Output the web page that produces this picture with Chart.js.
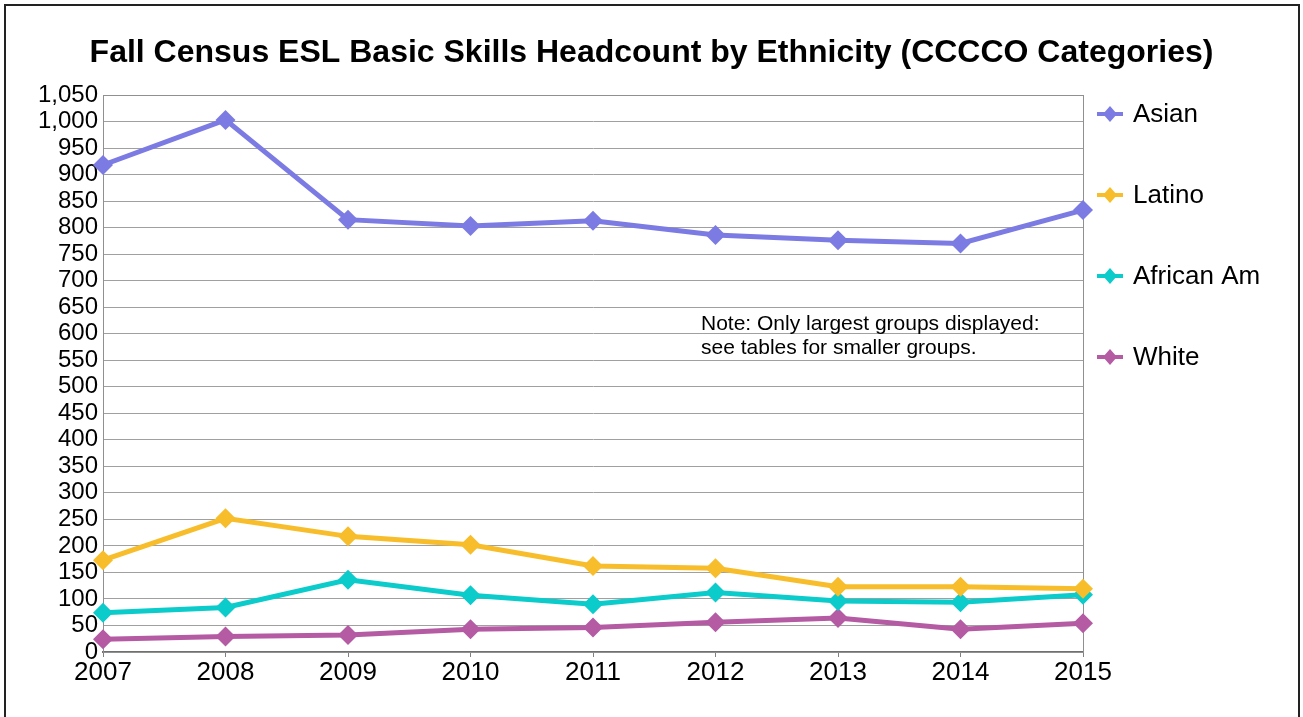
<!DOCTYPE html>
<html>
<head>
<meta charset="utf-8">
<title>Fall Census ESL Basic Skills Headcount by Ethnicity</title>
<script src="https://cdn.jsdelivr.net/npm/chart.js@4.4.1/dist/chart.umd.min.js"></script>
<style>
  html, body { margin: 0; padding: 0; background: #fff; overflow: hidden; }
  #frame {
    position: absolute; left: 4px; top: 4px; width: 1296px; height: 760px;
    border: 2px solid #222; box-sizing: border-box;
  }
  #wrap { position: absolute; left: 0; top: 0; width: 1303px; height: 717px; }
</style>
</head>
<body>
<div id="frame"></div>
<div id="wrap"><canvas id="chart" width="1303" height="717"></canvas></div>
<script>
// ── Data ──────────────────────────────────────────────────────────────────────
const years     = ['2007', '2008', '2009', '2010', '2011', '2012', '2013', '2014', '2015'];
const asian     = [918, 1003, 815, 803, 813, 786, 776, 770, 833];
const latino    = [173, 252, 218, 202, 162, 158, 123, 123, 119];
const africanAm = [74, 84, 136, 107, 90, 112, 96, 94, 108];
const white     = [24, 29, 32, 43, 46, 56, 64, 43, 54];

const seriesNames  = ['Asian', 'Latino', 'African Am', 'White'];
const seriesColors = ['#7b7be3', '#f8bd2a', '#0bcbcb', '#b45ba4'];
const noteLines = ['Note: Only largest groups displayed:', 'see tables for smaller groups.'];

const FONT = "'Liberation Sans', Arial, sans-serif";

function makeDataset(label, data, color) {
  return {
    label,
    data,
    borderColor: color,
    backgroundColor: color,
    borderWidth: 5,
    pointStyle: 'rectRot',
    pointRadius: 10,
    pointHoverRadius: 10,
    pointBackgroundColor: color,
    pointBorderWidth: 0,
    tension: 0,
    fill: false,
  };
}

// Box round the plot area (top and right edges aren't drawn by the axes)
const plotFrame = {
  id: 'plotFrame',
  beforeDatasetsDraw(chart) {
    const { ctx, chartArea: a } = chart;
    ctx.save();
    ctx.strokeStyle = '#909090';
    ctx.lineWidth = 1;
    ctx.strokeRect(a.left + 0.5, a.top + 0.5, a.right - a.left, a.bottom - a.top);
    ctx.restore();
  },
};

// Side legend: line + diamond marker, widely spaced like the original
const sideLegend = {
  id: 'sideLegend',
  afterDraw(chart) {
    const { ctx, chartArea: a } = chart;
    ctx.save();
    ctx.font = `26px ${FONT}`;
    ctx.textBaseline = 'middle';
    ctx.fillStyle = '#000';
    chart.data.datasets.forEach((ds, i) => {
      const y = a.top + 19 + i * 81;
      const x0 = a.right + 14;
      ctx.strokeStyle = ds.borderColor;
      ctx.lineWidth = 4;
      ctx.beginPath();
      ctx.moveTo(x0, y);
      ctx.lineTo(x0 + 26, y);
      ctx.stroke();
      ctx.fillStyle = ds.borderColor;
      ctx.beginPath();
      ctx.moveTo(x0 + 13, y - 8);
      ctx.lineTo(x0 + 20, y);
      ctx.lineTo(x0 + 13, y + 8);
      ctx.lineTo(x0 + 6, y);
      ctx.closePath();
      ctx.fill();
      ctx.fillStyle = '#000';
      ctx.fillText(ds.label, x0 + 36, y + 1);
    });
    ctx.restore();
  },
};

// Note text inside the plot
const noteText = {
  id: 'noteText',
  afterDatasetsDraw(chart) {
    const { ctx } = chart;
    ctx.save();
    ctx.font = `21px ${FONT}`;
    ctx.fillStyle = '#000';
    ctx.textBaseline = 'middle';
    noteLines.forEach((line, i) => ctx.fillText(line, 701, 324 + i * 24));
    ctx.restore();
  },
};

const ctx = document.getElementById('chart').getContext('2d');

new Chart(ctx, {
  type: 'line',
  data: {
    labels: years,
    datasets: [
      makeDataset(seriesNames[0], asian, seriesColors[0]),
      makeDataset(seriesNames[1], latino, seriesColors[1]),
      makeDataset(seriesNames[2], africanAm, seriesColors[2]),
      makeDataset(seriesNames[3], white, seriesColors[3]),
    ],
  },
  options: {
    responsive: false,
    animation: false,
    locale: 'en-US',
    layout: { padding: { left: 0, right: 0, top: 0, bottom: 25 } },
    plugins: {
      legend: { display: false },
      tooltip: { enabled: false },
      title: {
        display: true,
        text: 'Fall Census ESL Basic Skills Headcount by Ethnicity (CCCCO Categories)',
        color: '#000',
        font: { family: FONT, size: 32, weight: 'bold', lineHeight: 1.2 },
        padding: { top: 34, bottom: 22.6 },
      },
    },
    scales: {
      x: {
        offset: false,
        afterFit: (s) => { s.height = 40; },
        grid: {
          drawOnChartArea: false,
          drawTicks: true,
          tickLength: 5,
          color: '#808080',
        },
        border: { color: '#707070', width: 2 },
        ticks: {
          color: '#000',
          font: { family: FONT, size: 26 },
          padding: 0,
          maxRotation: 0,
          autoSkip: false,
        },
      },
      y: {
        min: 0,
        max: 1050,
        afterFit: (s) => { s.width = 103; },
        grid: { color: '#a0a0a0', lineWidth: 1, drawTicks: false },
        border: { color: '#808080', width: 1 },
        ticks: {
          stepSize: 50,
          autoSkip: false,
          color: '#000',
          padding: 5,
          font: { family: FONT, size: 24, lineHeight: 1 },
        },
      },
      // empty right-hand axis: only reserves the space the legend sits in
      legendSpace: {
        position: 'right',
        afterFit: (s) => { s.width = 220; },
        grid: { display: false, drawTicks: false },
        border: { display: false },
        ticks: { display: false },
      },
    },
  },
  plugins: [plotFrame, noteText, sideLegend],
});
</script>
</body>
</html>
